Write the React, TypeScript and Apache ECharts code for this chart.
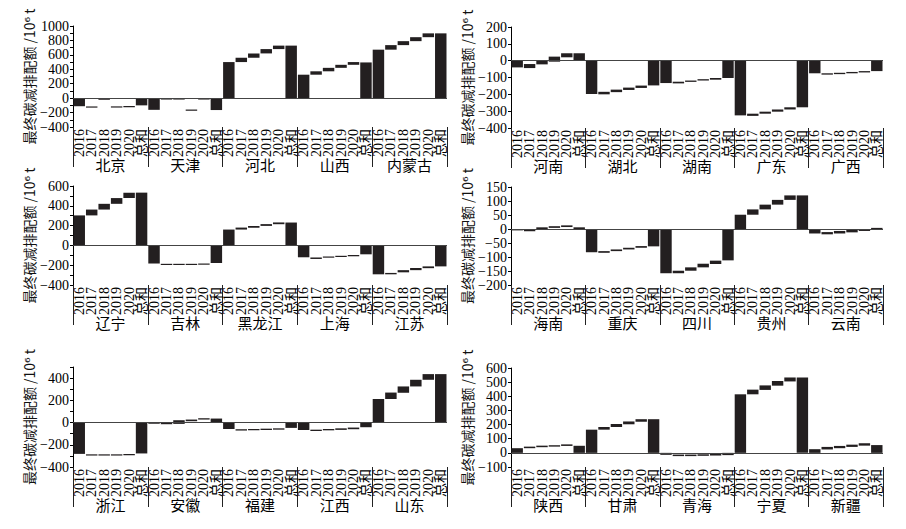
import React, { useEffect, useRef } from "react";
import * as echarts from "echarts";

const YEARS = ["2016", "2017", "2018", "2019", "2020", "总和"];

// panel 1
const P1_PROVINCES = ["北京", "天津", "河北", "山西", "内蒙古"];
const P1_BARS = [
  [0, -112], [-115, -130], [-6, -18], [-114, -130], [-110, -125], [0, -100],
  [0, -162], [-3, -15], [-3, -15], [-158, -175], [-3, -15], [0, -165],
  [0, 500], [500, 560], [560, 620], [620, 680], [680, 728], [0, 728],
  [0, 325], [325, 372], [372, 420], [420, 462], [462, 500], [0, 495],
  [0, 672], [672, 735], [735, 790], [790, 845], [845, 898], [0, 898],
];
// panel 2
const P2_PROVINCES = ["河南", "湖北", "湖南", "广东", "广西"];
const P2_BARS = [
  [0, -40], [-20, -44], [-2, -22], [-6, 24], [20, 44], [0, 44],
  [0, -198], [-185, -200], [-172, -187], [-160, -174], [-148, -162], [0, -147],
  [0, -133], [-125, -135], [-118, -126], [-110, -118], [-103, -113], [0, -103],
  [0, -325], [-315, -328], [-303, -315], [-290, -303], [-277, -290], [0, -277],
  [0, -75], [-75, -83], [-72, -80], [-67, -75], [-62, -70], [0, -62],
];
// panel 3
const P3_PROVINCES = ["辽宁", "吉林", "黑龙江", "上海", "江苏"];
const P3_BARS = [
  [0, 303], [303, 362], [362, 420], [420, 478], [478, 533], [0, 533],
  [0, -183], [-186, -197], [-186, -197], [-186, -197], [-183, -194], [0, -178],
  [0, 160], [160, 180], [178, 197], [197, 215], [214, 232], [0, 231],
  [0, -120], [-122, -137], [-112, -124], [-105, -117], [-97, -110], [0, -90],
  [0, -292], [-278, -292], [-250, -272], [-228, -250], [-212, -230], [0, -212],
];
// panel 4
const P4_PROVINCES = ["海南", "重庆", "四川", "贵州", "云南"];
const P4_BARS = [
  [0, -5], [-3, -8], [0, 6], [4, 10], [7, 13], [0, 6],
  [0, -83], [-79, -85], [-73, -79], [-67, -73], [-61, -67], [0, -62],
  [0, -158], [-149, -158], [-137, -149], [-124, -137], [-113, -125], [0, -112],
  [0, 51], [51, 70], [70, 87], [87, 104], [104, 120], [0, 120],
  [0, -16], [-11, -19], [-7, -16], [-3, -12], [0, -7], [0, 4],
];
// panel 5
const P5_PROVINCES = ["浙江", "安徽", "福建", "江西", "山东"];
const P5_BARS = [
  [0, -282], [-286, -297], [-286, -297], [-286, -297], [-283, -294], [0, -278],
  [0, -10], [-3, -15], [-12, 21], [12, 27], [27, 39], [0, 36],
  [0, -58], [-60, -72], [-58, -70], [-55, -67], [-52, -64], [0, -48],
  [0, -67], [-64, -76], [-58, -70], [-52, -66], [-45, -60], [0, -42],
  [0, 212], [212, 270], [268, 325], [325, 385], [385, 436], [0, 436],
];
// panel 6
const P6_PROVINCES = ["陕西", "甘肃", "青海", "宁夏", "新疆"];
const P6_BARS = [
  [0, 33], [33, 44], [40, 51], [44, 54], [49, 60], [0, 50],
  [0, 164], [164, 183], [183, 204], [202, 222], [220, 238], [0, 238],
  [0, -14], [-12, -23], [-12, -23], [-10, -21], [-8, -19], [0, -16],
  [0, 414], [414, 447], [445, 477], [475, 508], [505, 533], [0, 533],
  [0, 26], [24, 42], [33, 49], [42, 58], [51, 68], [0, 55],
];

const Y_MIN = [-400, -400, -400, -200, -400, -100];
const Y_MAX = [1000, 200, 600, 150, 500, 600];
const Y_TICK = [100, 100, 100, 50, 100, 100];
const Y_LABEL_STEP = [200, 100, 200, 50, 200, 100];
const Y_TITLE = "最终碳减排配额 /10⁶ t";

const PANELS = [
  { names: P1_PROVINCES, bars: P1_BARS },
  { names: P2_PROVINCES, bars: P2_BARS },
  { names: P3_PROVINCES, bars: P3_BARS },
  { names: P4_PROVINCES, bars: P4_BARS },
  { names: P5_PROVINCES, bars: P5_BARS },
  { names: P6_PROVINCES, bars: P6_BARS },
];

const GRIDS = [
  { left: 73, top: 26, width: 374, height: 101 },
  { left: 511, top: 27, width: 372, height: 101 },
  { left: 73, top: 186, width: 374, height: 99 },
  { left: 511, top: 187, width: 372, height: 98 },
  { left: 73, top: 367, width: 374, height: 100 },
  { left: 511, top: 368, width: 372, height: 99 },
];

const FONT = "'Liberation Serif', 'Noto Sans CJK SC', serif";
const TITLE_FONT = "'Noto Sans CJK SC', 'DejaVu Sans', sans-serif";
const BAR_COLOR = "#231f20";

export default function App() {
  const ref = useRef<HTMLDivElement>(null);
  useEffect(() => {
    if (!ref.current) return;
    const chart = echarts.init(ref.current, null, { renderer: "svg" });
    const xAxes: any[] = [];
    const yAxes: any[] = [];
    const series: any[] = [];
    PANELS.forEach((p, i) => {
      const yearCats: string[] = [];
      p.names.forEach(() => YEARS.forEach((y) => yearCats.push(y)));
      xAxes.push({
        type: "category",
        gridIndex: i,
        data: yearCats,
        position: "bottom",
        axisLine: { show: false },
        axisTick: { show: false },
        axisLabel: {
          interval: 0,
          rotate: 90,
          margin: 2,
          fontSize: 14,
          color: "#000",
          fontFamily: FONT,
        },
      });
      xAxes.push({
        type: "category",
        gridIndex: i,
        data: p.names,
        position: "bottom",
        offset: 40,
        axisLine: { show: false },
        axisTick: {
          show: true,
          inside: true,
          length: 40,
          lineStyle: { color: "#222", width: 1 },
        },
        axisLabel: {
          interval: 0,
          margin: -9,
          fontSize: 15,
          color: "#000",
          fontFamily: FONT,
        },
      });
      const step = Y_LABEL_STEP[i];
      yAxes.push({
        type: "value",
        gridIndex: i,
        min: Y_MIN[i],
        max: Y_MAX[i],
        interval: Y_TICK[i],
        axisLine: { show: true, lineStyle: { color: "#000", width: 1 } },
        axisTick: { show: true, length: 3, lineStyle: { color: "#000" } },
        splitLine: { show: false },
        axisLabel: {
          margin: 4,
          fontSize: 14,
          color: "#000",
          fontFamily: FONT,
          formatter: (v: number) =>
            Math.round(v) % step === 0 ? String(v).replace("-", "\u2212") : "",
        },
        name: Y_TITLE,
        nameLocation: "middle",
        nameGap: 33,
        nameTextStyle: {
          fontSize: 14,
          color: "#111",
          fontFamily: TITLE_FONT,
        },
      });
      series.push({
        type: "custom",
        xAxisIndex: i * 2,
        yAxisIndex: i,
        encode: { x: 0, y: [1, 2] },
        data: p.bars.map((b, k) => [k, b[0], b[1]]),
        renderItem: (params: any, api: any) => {
          const k = api.value(0);
          const a = api.value(1);
          const b = api.value(2);
          const pa = api.coord([k, a]);
          const pb = api.coord([k, b]);
          const w = api.size([1, 0])[0] * 0.92;
          const top = Math.min(pa[1], pb[1]);
          const h = Math.max(Math.abs(pb[1] - pa[1]), 1.2);
          return {
            type: "rect",
            shape: { x: pa[0] - w / 2, y: top, width: w, height: h },
            style: { fill: BAR_COLOR },
          };
        },
        markLine: {
          silent: true,
          symbol: "none",
          label: { show: false },
          lineStyle: { color: "#444", width: 1, type: "solid" },
          data: [{ yAxis: 0 }],
        },
      });
    });
    chart.setOption({
      animation: false,
      backgroundColor: "#fff",
      grid: GRIDS.map((g) => ({ ...g, containLabel: false })),
      xAxis: xAxes,
      yAxis: yAxes,
      series,
    });
    return () => chart.dispose();
  }, []);
  return (
    <div
      ref={ref}
      style={{ position: "fixed", left: 0, top: 0, width: 906, height: 529, background: "#fff" }}
    />
  );
}
